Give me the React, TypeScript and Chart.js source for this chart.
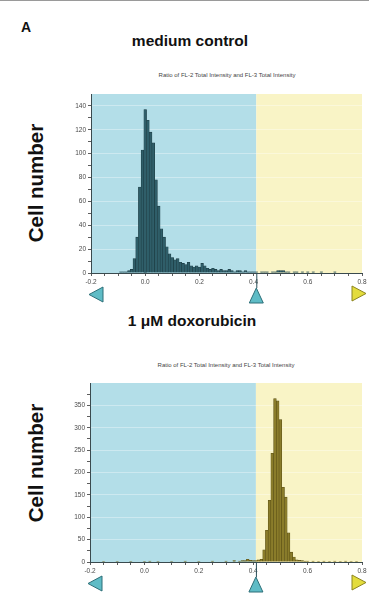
import { useEffect, useRef } from "react";
import { Chart, registerables } from "chart.js";
Chart.register(...registerables);

// ---- data ----
const xMajorTicks = [-0.2, 0.0, 0.2, 0.4, 0.6, 0.8];
const gateSplit = 0.41;
const xMin = -0.2;
const xMax = 0.8;

const topTitle = "medium control";
const bottomTitle = "1 μM doxorubicin";
const plotTitle = "Ratio of FL-2 Total Intensity and FL-3 Total Intensity";
const yLabel = "Cell number";

const topBins = [
  -0.09, -0.08, -0.07, -0.06, -0.05, -0.04, -0.03, -0.02, -0.01, 0.0, 0.01, 0.02, 0.03, 0.04,
  0.05, 0.06, 0.07, 0.08, 0.09, 0.1, 0.11, 0.12, 0.13, 0.14, 0.15, 0.16, 0.17, 0.18, 0.19, 0.2,
  0.21, 0.22, 0.23, 0.24, 0.25, 0.26, 0.27, 0.28, 0.29, 0.3, 0.31, 0.32, 0.33, 0.34, 0.35, 0.36,
  0.37, 0.38, 0.39, 0.4, 0.41, 0.42, 0.43, 0.44, 0.45, 0.46, 0.47, 0.48, 0.49, 0.5, 0.51, 0.52,
  0.53, 0.54, 0.55, 0.56, 0.57, 0.58, 0.6, 0.62, 0.65, 0.7,
];
const topCounts = [
  1, 1, 1, 2, 3, 12, 30, 72, 103, 137, 128, 118, 109, 78,
  56, 37, 30, 22, 16, 13, 11, 12, 9, 8, 7, 9, 6, 5, 6, 5,
  8, 6, 4, 3, 4, 3, 2, 3, 2, 2, 3, 2, 1, 2, 2, 1,
  2, 1, 1, 1, 1, 0, 1, 1, 1, 0, 1, 1, 2, 2, 2, 1,
  1, 0, 1, 1, 0, 1, 1, 1, 1, 1,
];

const bottomBins = [
  -0.15, -0.1, -0.05, 0.0, 0.02, 0.05, 0.1, 0.15, 0.2, 0.25, 0.3, 0.33, 0.35, 0.36, 0.37,
  0.38, 0.39, 0.4, 0.41, 0.42, 0.43, 0.44, 0.45, 0.46, 0.47, 0.48, 0.49, 0.5, 0.51, 0.52,
  0.53, 0.54, 0.55, 0.56, 0.57, 0.58, 0.59, 0.6, 0.62, 0.64, 0.66, 0.68, 0.7, 0.72, 0.74, 0.76, 0.78,
];
const bottomCounts = [
  1, 1, 1, 1, 2, 1, 1, 2, 1, 2, 2, 3, 2, 3, 3,
  6, 4, 3, 3, 5, 6, 27, 71, 138, 243, 365, 360, 318, 167, 145,
  65, 22, 11, 5, 4, 3, 2, 2, 2, 1, 2, 1, 2, 1, 2, 1, 1,
];

const topYMax = 150;
const topYStep = 10;
const topYLabelStep = 20;
const bottomYMax = 400;
const bottomYStep = 25;
const bottomYLabelStep = 50;

// ---- styles ----
const BLUE = "#b3dee8";
const YELLOW = "#f9f4c6";
const FONT = "'Liberation Sans', Arial, sans-serif";

const isMultiple = (v: number, step: number) => Math.abs(v / step - Math.round(v / step)) < 1e-6;

function tri(ctx: CanvasRenderingContext2D, pts: number[][], fill: string, stroke: string) {
  ctx.beginPath();
  ctx.moveTo(pts[0][0], pts[0][1]);
  ctx.lineTo(pts[1][0], pts[1][1]);
  ctx.lineTo(pts[2][0], pts[2][1]);
  ctx.closePath();
  ctx.fillStyle = fill;
  ctx.fill();
  ctx.lineWidth = 1;
  ctx.strokeStyle = stroke;
  ctx.stroke();
}

const gatePlugin = {
  id: "gate",
  beforeDraw(chart: any) {
    const { ctx, chartArea, scales } = chart;
    const xs = scales.x;
    const xg = xs.getPixelForValue(gateSplit);
    const x0 = xs.getPixelForValue(xMin);
    const x1 = xs.getPixelForValue(xMax);
    ctx.save();
    ctx.fillStyle = BLUE;
    ctx.fillRect(x0, chartArea.top, xg - x0, chartArea.bottom - chartArea.top);
    ctx.fillStyle = YELLOW;
    ctx.fillRect(xg, chartArea.top, x1 - xg, chartArea.bottom - chartArea.top);
    ctx.restore();
  },
  afterDraw(chart: any) {
    const { ctx, chartArea, scales } = chart;
    const xs = scales.x;
    const xg = xs.getPixelForValue(gateSplit);
    const x0 = xs.getPixelForValue(xMin);
    const x1 = xs.getPixelForValue(xMax);
    const b = chartArea.bottom;
    ctx.save();
    ctx.strokeStyle = "#2a4f58";
    ctx.lineWidth = 1;
    ctx.beginPath();
    ctx.moveTo(xg + 0.5, b);
    ctx.lineTo(xg + 0.5, b + 15);
    ctx.stroke();
    const cy = b + 21.5;
    tri(ctx, [[x0 - 2, cy], [x0 + 12, cy - 7.5], [x0 + 12, cy + 7.5]], "#5fbcc6", "#2d6f78");
    tri(ctx, [[xg, b + 15], [xg + 7, b + 30], [xg - 7, b + 30]], "#5fbcc6", "#2d6f78");
    tri(ctx, [[x1 + 4, cy - 1], [x1 - 10, cy - 8.5], [x1 - 10, cy + 6.5]], "#e3dc3c", "#8c8420");
    ctx.restore();
  },
};

interface HistProps {
  top: number;
  height: number;
  padTop: number;
  padBottom: number;
  axisWidth: number;
  bins: number[];
  counts: number[];
  yMax: number;
  yStep: number;
  yLabelStep: number;
  fill: string;
  border: string;
}

function Histogram(p: HistProps) {
  const ref = useRef<HTMLCanvasElement | null>(null);
  useEffect(() => {
    if (!ref.current) return;
    const data = p.bins.map((b, i) => ({ x: b, y: p.counts[i] }));
    const chart = new Chart(ref.current, {
      type: "bar",
      data: {
        datasets: [
          {
            data,
            backgroundColor: p.fill,
            borderColor: p.border,
            borderWidth: 0.6,
            barPercentage: 1,
            categoryPercentage: 1,
          } as any,
        ],
      },
      options: {
        animation: false,
        responsive: false,
        devicePixelRatio: 1,
        events: [],
        layout: { padding: { left: 0, right: 7, top: p.padTop, bottom: p.padBottom } },
        plugins: { legend: { display: false }, tooltip: { enabled: false }, title: { display: false } },
        scales: {
          x: {
            type: "linear",
            min: xMin,
            max: xMax,
            offset: false,
            afterFit: (s: any) => {
              s.height = 12;
            },
            ticks: {
              stepSize: 0.05,
              autoSkip: false,
              maxRotation: 0,
              padding: 2,
              color: "#4a4a4a",
              font: { size: 6.5, family: FONT },
              callback: (v: any) => {
                const n = Number(v);
                if (!isMultiple(n, 0.2)) return "";
                const m = xMajorTicks.find((t) => Math.abs(t - n) < 1e-6);
                return m === undefined ? "" : m.toFixed(1);
              },
            },
            grid: {
              offset: false,
              drawOnChartArea: false,
              tickLength: 3,
              tickColor: "#333",
              tickWidth: 0.8,
            },
            border: { color: "#3a4a4e", width: 1 },
          },
          y: {
            type: "linear",
            min: 0,
            max: p.yMax,
            afterFit: (s: any) => {
              s.width = p.axisWidth;
            },
            ticks: {
              stepSize: p.yStep,
              includeBounds: false,
              autoSkip: false,
              padding: 2,
              color: "#4a4a4a",
              font: { size: 6.5, family: FONT },
              callback: (v: any) => {
                const n = Number(v);
                return isMultiple(n, p.yLabelStep) && n < p.yMax ? String(v) : "";
              },
            },
            grid: {
              color: (c: any) =>
                c.tick && isMultiple(c.tick.value, p.yLabelStep) && c.tick.value > 0 && c.tick.value < p.yMax
                  ? "rgba(255,255,255,0.35)"
                  : "rgba(0,0,0,0)",
              tickLength: 3,
              tickColor: (c: any) => (c.tick && c.tick.value < p.yMax ? "#333" : "rgba(0,0,0,0)"),
              tickWidth: 0.8,
            },
            border: { color: "#3a4a4e", width: 1 },
          },
        },
      },
      plugins: [gatePlugin],
    });
    return () => chart.destroy();
  }, []);
  return (
    <canvas
      ref={ref}
      width={369}
      height={p.height}
      style={{ position: "absolute", left: 0, top: p.top, width: 369, height: p.height }}
    />
  );
}

const abs = (extra: any) => ({ position: "absolute", whiteSpace: "nowrap", lineHeight: 1, fontFamily: FONT, ...extra });

export default function App() {
  useEffect(() => {
    document.body.style.margin = "0";
    document.body.style.overflow = "hidden";
  }, []);
  return (
    <div style={{ position: "fixed", left: 0, top: 0, width: 369, height: 597, background: "#fff", overflow: "hidden" }}>
      <div style={{ position: "absolute", left: 0, top: 0, width: 369, height: 1, background: "#9a9a9a" }} />
      <div style={abs({ left: 21, top: 20, fontSize: 14, fontWeight: "bold", color: "#111" })}>A</div>
      <div style={abs({ left: 190, top: 33, fontSize: 15.5, fontWeight: "bold", color: "#111", transform: "translateX(-50%)" })}>
        {topTitle}
      </div>
      <div style={abs({ left: 227, top: 72, fontSize: 6, color: "#444", transform: "translateX(-50%)" })}>{plotTitle}</div>
      <div
        style={abs({ left: 36, top: 183, fontSize: 20.5, fontWeight: "bold", color: "#111", transform: "translate(-50%,-50%) rotate(-90deg)" })}
      >
        {yLabel}
      </div>
      <Histogram
        top={80}
        height={230}
        padTop={14}
        padBottom={25}
        axisWidth={91}
        bins={topBins}
        counts={topCounts}
        yMax={topYMax}
        yStep={topYStep}
        yLabelStep={topYLabelStep}
        fill="#2f5e69"
        border="#1d3c44"
      />
      <div style={abs({ left: 192, top: 313, fontSize: 15.5, fontWeight: "bold", color: "#111", transform: "translateX(-50%)" })}>
        {bottomTitle}
      </div>
      <div style={abs({ left: 226, top: 362, fontSize: 6, color: "#444", transform: "translateX(-50%)" })}>{plotTitle}</div>
      <div
        style={abs({ left: 36, top: 463, fontSize: 20.5, fontWeight: "bold", color: "#111", transform: "translate(-50%,-50%) rotate(-90deg)" })}
      >
        {yLabel}
      </div>
      <Histogram
        top={370}
        height={227}
        padTop={13}
        padBottom={23}
        axisWidth={90}
        bins={bottomBins}
        counts={bottomCounts}
        yMax={bottomYMax}
        yStep={bottomYStep}
        yLabelStep={bottomYLabelStep}
        fill="#8a7c2a"
        border="#5a4f14"
      />
    </div>
  );
}
